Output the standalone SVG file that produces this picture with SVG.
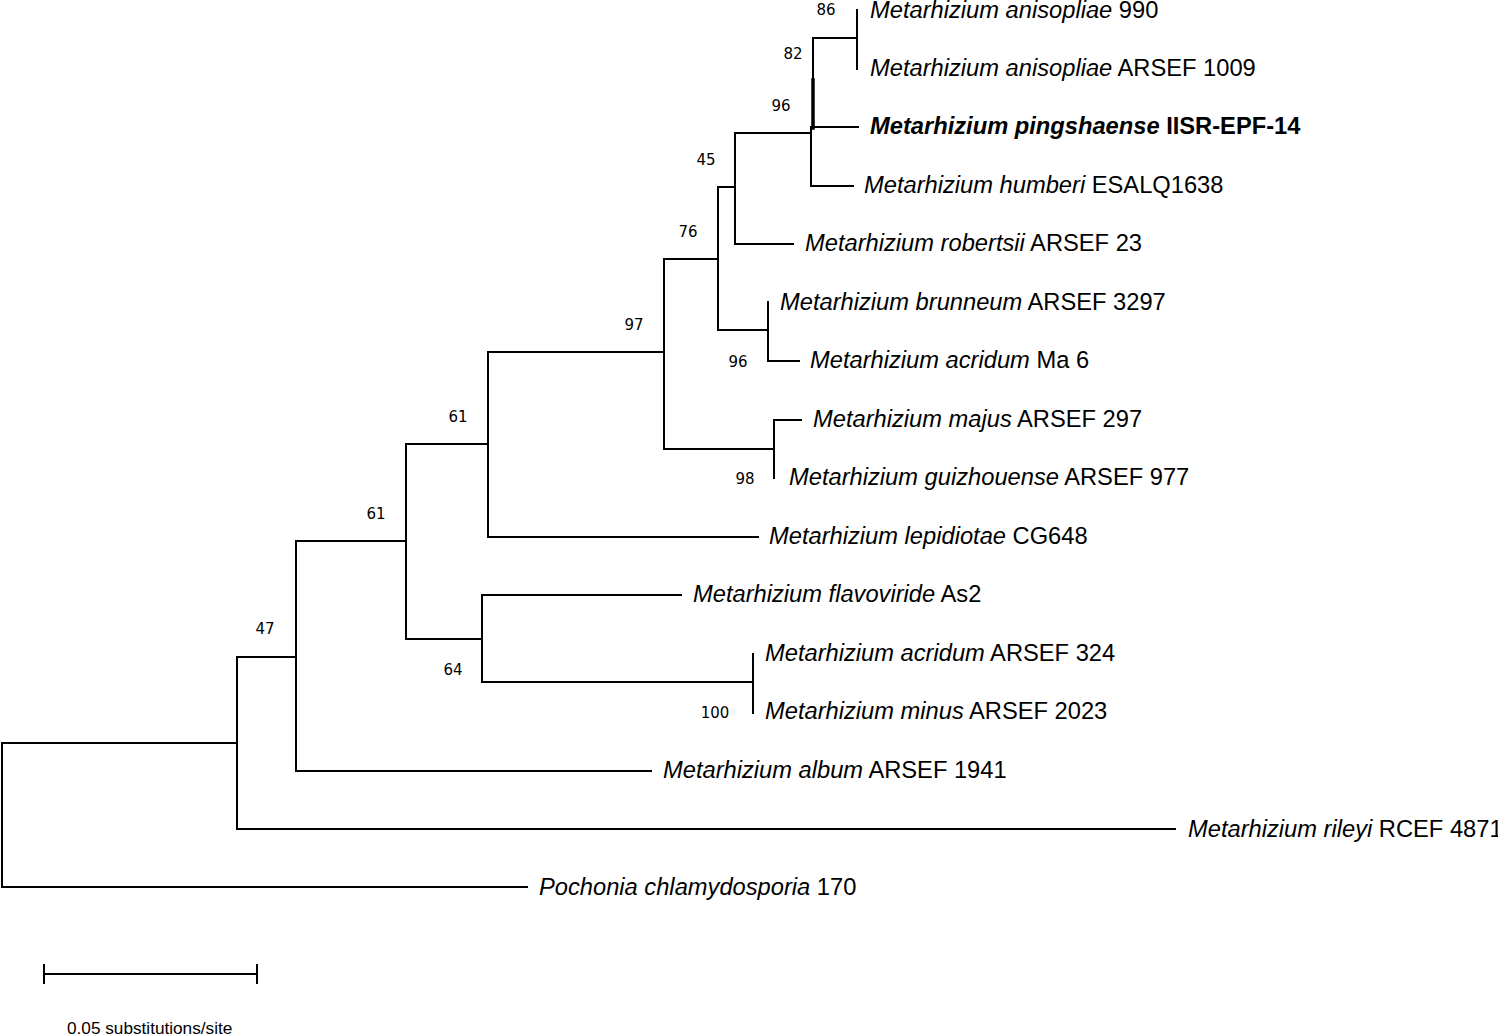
<svg xmlns="http://www.w3.org/2000/svg" width="1498" height="1036" viewBox="0 0 1498 1036">
<style>
.br{fill:none;stroke:#000;stroke-width:2;stroke-linecap:square}
.lf{font-family:"Liberation Sans",Arial,sans-serif;font-size:23.7px;fill:#000;dominant-baseline:central}
.sp{font-style:italic}
.bs{font-family:"DejaVu Sans",Verdana,sans-serif;font-size:15px;fill:#000;text-anchor:middle;dominant-baseline:central}
.sc{font-family:"Liberation Sans",Arial,sans-serif;font-size:17.2px;fill:#000}
</style>
<rect width="1498" height="1036" fill="#fff"/>
<g id="connectors" class="br">
<path d="M857,10 V69"/>
<path d="M813,38 H857"/>
<path d="M813,38 V127"/>
<path d="M813,80 V128" stroke-width="3.5"/>
<path d="M813,127 H858"/>
<path d="M735,133 H811"/>
<path d="M811,127 V186"/>
<path d="M811,186 H853"/>
<path d="M718,187 H735"/>
<path d="M735,133 V244"/>
<path d="M735,244 H793"/>
<path d="M664,259 H718"/>
<path d="M718,187 V330"/>
<path d="M718,330 H768"/>
<path d="M768,302 V361"/>
<path d="M768,361 H799"/>
<path d="M488,352 H664"/>
<path d="M664,259 V449"/>
<path d="M664,449 H774"/>
<path d="M774,420 V478"/>
<path d="M774,420 H801"/>
<path d="M406,444 H488"/>
<path d="M488,352 V537"/>
<path d="M488,537 H758"/>
<path d="M296,541 H406"/>
<path d="M406,444 V639"/>
<path d="M406,639 H482"/>
<path d="M482,595 V682"/>
<path d="M482,595 H681"/>
<path d="M482,682 H753"/>
<path d="M753,654 V713"/>
<path d="M237,657 H296"/>
<path d="M296,541 V771"/>
<path d="M296,771 H651"/>
<path d="M2,743 H237"/>
<path d="M237,657 V829"/>
<path d="M237,829 H1175"/>
<path d="M2,743 V887"/>
<path d="M2,887 H527"/>
</g>
<g id="support">
<text class="bs" x="826" y="10">86</text>
<text class="bs" x="793" y="54">82</text>
<text class="bs" x="781" y="106">96</text>
<text class="bs" x="706" y="160">45</text>
<text class="bs" x="688" y="232">76</text>
<text class="bs" x="634" y="325">97</text>
<text class="bs" x="738" y="362">96</text>
<text class="bs" x="745" y="479">98</text>
<text class="bs" x="458" y="417">61</text>
<text class="bs" x="376" y="514">61</text>
<text class="bs" x="453" y="670">64</text>
<text class="bs" x="715" y="713">100</text>
<text class="bs" x="265" y="629">47</text>
</g>
<g id="leaf-anisopliae-990"><text class="lf" x="870" y="10"><tspan class="sp">Metarhizium anisopliae</tspan> 990</text></g>
<g id="leaf-anisopliae-1009"><text class="lf" x="870" y="68"><tspan class="sp">Metarhizium anisopliae</tspan> ARSEF 1009</text></g>
<g id="leaf-pingshaense"><text class="lf" x="870" y="126" font-weight="bold"><tspan class="sp">Metarhizium pingshaense</tspan> IISR-EPF-14</text></g>
<g id="leaf-humberi"><text class="lf" x="864" y="185"><tspan class="sp">Metarhizium humberi</tspan> ESALQ1638</text></g>
<g id="leaf-robertsii"><text class="lf" x="805" y="243"><tspan class="sp">Metarhizium robertsii</tspan> ARSEF 23</text></g>
<g id="leaf-brunneum"><text class="lf" x="780" y="302"><tspan class="sp">Metarhizium brunneum</tspan> ARSEF 3297</text></g>
<g id="leaf-acridum-ma6"><text class="lf" x="810" y="360"><tspan class="sp">Metarhizium acridum</tspan> Ma 6</text></g>
<g id="leaf-majus"><text class="lf" x="813" y="419"><tspan class="sp">Metarhizium majus</tspan> ARSEF 297</text></g>
<g id="leaf-guizhouense"><text class="lf" x="789" y="477"><tspan class="sp">Metarhizium guizhouense</tspan> ARSEF 977</text></g>
<g id="leaf-lepidiotae"><text class="lf" x="769" y="536"><tspan class="sp">Metarhizium lepidiotae</tspan> CG648</text></g>
<g id="leaf-flavoviride"><text class="lf" x="693" y="594"><tspan class="sp">Metarhizium flavoviride</tspan> As2</text></g>
<g id="leaf-acridum-324"><text class="lf" x="765" y="653"><tspan class="sp">Metarhizium acridum</tspan> ARSEF 324</text></g>
<g id="leaf-minus"><text class="lf" x="765" y="711"><tspan class="sp">Metarhizium minus</tspan> ARSEF 2023</text></g>
<g id="leaf-album"><text class="lf" x="663" y="770"><tspan class="sp">Metarhizium album</tspan> ARSEF 1941</text></g>
<g id="leaf-rileyi"><text class="lf" x="1188" y="829"><tspan class="sp">Metarhizium rileyi</tspan> RCEF 4871</text></g>
<g id="leaf-pochonia"><text class="lf" x="539" y="887"><tspan class="sp">Pochonia chlamydosporia</tspan> 170</text></g>
<g id="scale-bar">
<path class="br" d="M44,974 H257 M44,965 V983 M257,965 V983"/>
<text class="sc" x="67" y="1034">0.05 substitutions/site</text>
</g>
</svg>
